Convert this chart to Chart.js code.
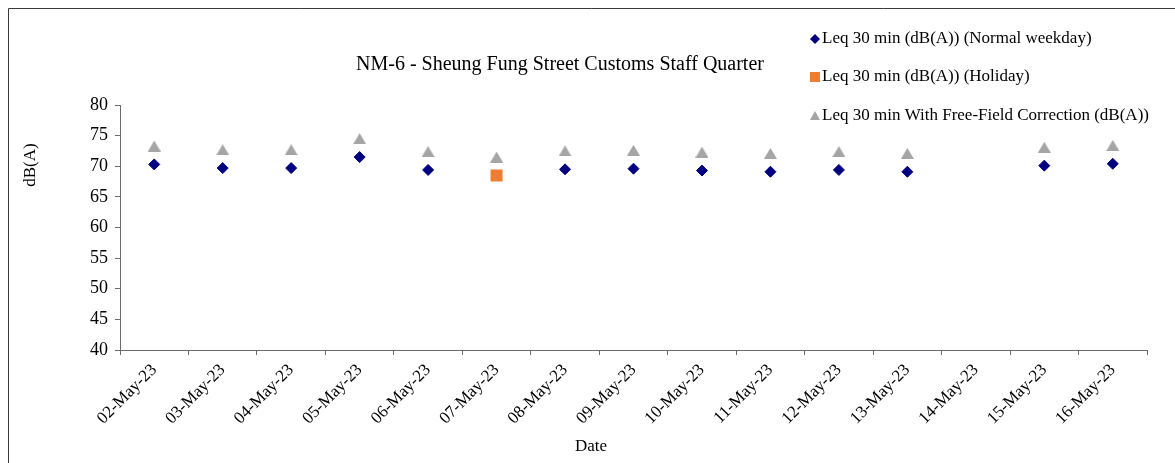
<!DOCTYPE html>
<html>
<head>
<meta charset="utf-8">
<title>NM-6 - Sheung Fung Street Customs Staff Quarter</title>
<script src="https://cdn.jsdelivr.net/npm/chart.js@4.4.0/dist/chart.umd.min.js"></script>
<style>
  html, body { margin: 0; padding: 0; background: #ffffff; }
  #wrap { position: relative; width: 1175px; height: 463px; }
</style>
</head>
<body>
<div id="wrap"><canvas id="chart" width="1175" height="463"></canvas></div>
<script>
// Monitoring dates (x categories)
const dates = ['02-May-23', '03-May-23', '04-May-23', '05-May-23', '06-May-23', '07-May-23',
               '08-May-23', '09-May-23', '10-May-23', '11-May-23', '12-May-23', '13-May-23',
               '14-May-23', '15-May-23', '16-May-23'];

// Leq 30 min on normal weekdays, dB(A)
const weekdayLeq = [70.3, 69.7, 69.7, 71.5, 69.4, null, 69.5, 69.6, 69.3, 69.1, 69.4, 69.1, null, 70.1, 70.4];

// Leq 30 min on holidays, dB(A)
const holidayLeq = [null, null, null, null, null, 68.5, null, null, null, null, null, null, null, null, null];

// Leq 30 min with free-field correction, dB(A)
const freeFieldLeq = [73.3, 72.7, 72.7, 74.5, 72.4, 71.5, 72.5, 72.6, 72.3, 72.1, 72.4, 72.1, null, 73.1, 73.4];

// Value axis range and tick step
const yMin = 40;
const yMax = 80;
const yStep = 5;

const seriesNames = [
  'Leq 30 min (dB(A)) (Normal weekday)',
  'Leq 30 min (dB(A)) (Holiday)',
  'Leq 30 min With Free-Field Correction (dB(A))'
];

const NAVY = '#000080';
const ORANGE = '#ED7D31';
const GREY = '#A5A5A5';
const AXIS = '#6b6b6b';
const SERIF = '"Liberation Serif", "Times New Roman", serif';

// Triangle marker centred on its bounding box
function triangleMarker(w, h, color) {
  const c = document.createElement('canvas');
  c.width = w; c.height = h;
  const g = c.getContext('2d');
  g.fillStyle = color;
  g.beginPath();
  g.moveTo(w / 2, 0);
  g.lineTo(w, h);
  g.lineTo(0, h);
  g.closePath();
  g.fill();
  return c;
}
const triImg = triangleMarker(13, 11, GREY);

// Frame, title, axis titles and legend
const decorations = {
  id: 'decorations',
  afterDraw(chart) {
    const ctx = chart.ctx;
    ctx.save();

    // outer frame (left and top edges)
    ctx.strokeStyle = '#3a3a3a';
    ctx.lineWidth = 1;
    ctx.beginPath();
    ctx.moveTo(8.5, 463);
    ctx.lineTo(8.5, 8.5);
    ctx.lineTo(1175, 8.5);
    ctx.stroke();

    ctx.fillStyle = '#000';
    ctx.textBaseline = 'middle';

    // title
    ctx.font = '20px ' + SERIF;
    ctx.textAlign = 'center';
    ctx.fillText('NM-6 - Sheung Fung Street Customs Staff Quarter', 560, 65);

    // x axis title
    ctx.font = '17px ' + SERIF;
    ctx.fillText('Date', 591, 447);

    // y axis title
    ctx.save();
    ctx.translate(31, 165);
    ctx.rotate(-Math.PI / 2);
    ctx.fillText('dB(A)', 0, 0);
    ctx.restore();

    // legend
    ctx.textAlign = 'left';
    ctx.font = '17px ' + SERIF;
    const lx = 815;
    const rows = [39, 77, 116];

    ctx.fillStyle = NAVY;
    ctx.beginPath();
    ctx.moveTo(lx - 5, rows[0]);
    ctx.lineTo(lx, rows[0] - 5);
    ctx.lineTo(lx + 5, rows[0]);
    ctx.lineTo(lx, rows[0] + 5);
    ctx.closePath();
    ctx.fill();

    ctx.fillStyle = ORANGE;
    ctx.fillRect(lx - 5, rows[1] - 5, 10, 10);

    ctx.drawImage(triangleMarker(10, 9, GREY), lx - 5, rows[2] - 5);

    ctx.fillStyle = '#000';
    seriesNames.forEach((name, i) => ctx.fillText(name, lx + 7, rows[i]));

    ctx.restore();
  }
};

new Chart(document.getElementById('chart'), {
  type: 'line',
  data: {
    labels: dates,
    datasets: [
      {
        label: seriesNames[0],
        data: weekdayLeq,
        showLine: false,
        pointStyle: 'rectRot',
        pointRadius: 5.5,
        pointBackgroundColor: NAVY,
        pointBorderColor: NAVY,
        pointBorderWidth: 1
      },
      {
        label: seriesNames[1],
        data: holidayLeq,
        showLine: false,
        pointStyle: 'rect',
        pointRadius: 8.5,
        pointBackgroundColor: ORANGE,
        pointBorderWidth: 0
      },
      {
        label: seriesNames[2],
        data: freeFieldLeq,
        showLine: false,
        pointStyle: triImg,
        pointRadius: 6,
        pointBackgroundColor: GREY,
        pointBorderWidth: 0
      }
    ]
  },
  options: {
    responsive: false,
    animation: false,
    events: [],
    layout: { padding: { left: 0, top: 105, right: 28, bottom: 0 } },
    plugins: {
      legend: { display: false },
      title: { display: false },
      tooltip: { enabled: false }
    },
    scales: {
      x: {
        type: 'category',
        offset: true,
        grid: { display: true, offset: true, drawOnChartArea: false, tickLength: 5, color: AXIS },
        border: { display: true, color: AXIS },
        ticks: {
          autoSkip: false,
          maxRotation: 45,
          minRotation: 45,
          padding: 5,
          color: '#000',
          font: { family: SERIF, size: 17 }
        },
        afterFit(scale) { scale.height = 113; }
      },
      y: {
        min: yMin,
        max: yMax,
        grid: { display: true, drawOnChartArea: false, tickLength: 5, color: AXIS },
        border: { display: true, color: AXIS },
        ticks: {
          stepSize: yStep,
          padding: 7,
          color: '#000',
          font: { family: SERIF, size: 18 }
        },
        afterFit(scale) { scale.width = 120; }
      }
    }
  },
  plugins: [decorations]
});
</script>
</body>
</html>
